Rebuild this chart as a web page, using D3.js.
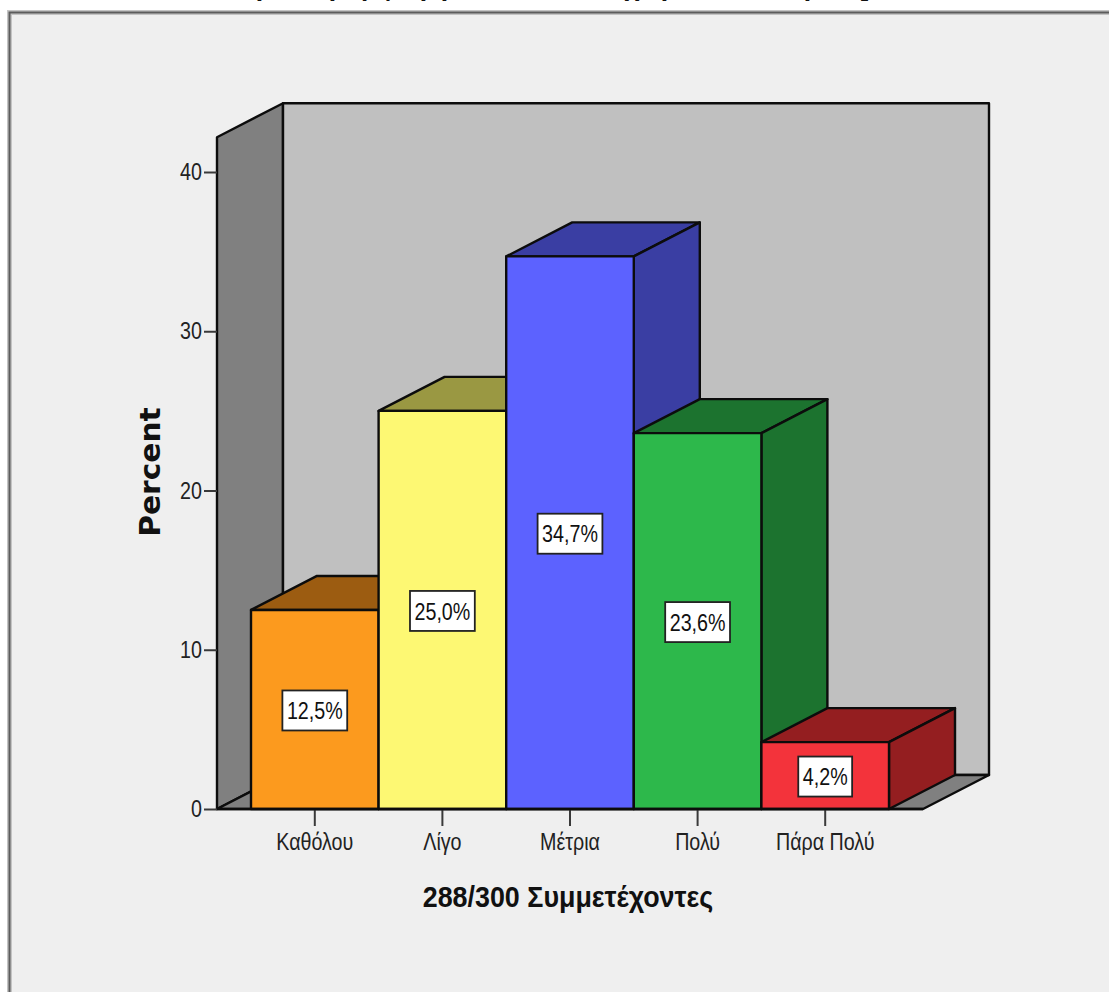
<!DOCTYPE html>
<html lang="el">
<head>
<meta charset="utf-8">
<title>288/300 Συμμετέχοντες</title>
<script src="https://cdn.jsdelivr.net/npm/d3@7/dist/d3.min.js"></script>
<style>
html, body { margin: 0; padding: 0; background: #fff; overflow: hidden; }
svg { display: block; }
</style>
</head>
<body>
<svg id="chart" width="1109" height="992"></svg>
<script>
// Survey responses, percent per answer
const categories = ["Καθόλου", "Λίγο", "Μέτρια", "Πολύ", "Πάρα Πολύ"];
const percents = [12.5, 25.0, 34.7, 23.6, 4.2];
const frontColors = ["#fc9a1e", "#fdf873", "#5c62ff", "#2db84b", "#f3333b"];
const shadeColors = ["#9c5c11", "#9a9842", "#3a3ea3", "#1c732f", "#941e20"];
const yTicks = [0, 10, 20, 30, 40];
const xTitle = "288/300 Συμμετέχοντες";
const yTitle = "Percent";
// Lower strokes of the heading, which runs off the top edge of the page
const headingGlyphs = ["ρ", "ρ", "μ", "φ", "ρ", "ρ", "χ", "ρ", "ρ", "]"];
const headingAt = [264, 337, 369, 388, 428, 449, 632, 669, 812, 865];

const svg = d3.select("#chart");
const width = 1109, height = 992;

const x = d3.scaleBand().domain(categories).range([251, 889]);
const y = d3.scaleLinear().domain([0, 40]).range([809, 172]);
const depth = { dx: 66, dy: -34 };
const wallLeft = 217, floorRight = 923, wallTopValue = 42.18;

const poly = pts => pts.map(p => p.join(",")).join(" ");
const back = ([px, py]) => [px + depth.dx, py + depth.dy];
const ink = "#0c0c0c";

// Squeeze or stretch a text selection horizontally by a factor
const stretch = (sel, k) => sel.each(function () {
  d3.select(this)
    .attr("textLength", this.getComputedTextLength() * k)
    .attr("lengthAdjust", "spacingAndGlyphs");
});

// Panel background and its soft frame
svg.append("rect").attr("x", 9).attr("y", 12).attr("width", width).attr("height", height)
  .attr("fill", "#efefef");
const frame = `M9.5,${height} V12.5 H${width}`;
svg.append("path").attr("d", frame).attr("fill", "none").attr("stroke", "#c4c4c4").attr("stroke-width", 5);
svg.append("path").attr("d", frame).attr("fill", "none").attr("stroke", "#5c5c5c").attr("stroke-width", 2);

// Heading fragments clipped by the page edge
svg.append("text")
  .attr("x", headingAt.join(" "))
  .attr("y", -4)
  .attr("font-family", "Liberation Sans, sans-serif")
  .attr("font-weight", "bold")
  .attr("font-size", 26)
  .attr("text-anchor", "middle")
  .attr("fill", "#111")
  .text(headingGlyphs.join(""));

// Box walls and floor
const y0 = y(0), yTop = y(wallTopValue);
const layer = svg.append("g").attr("stroke", ink).attr("stroke-width", 2.4).attr("stroke-linejoin", "round");
layer.append("polygon")
  .attr("points", poly([[wallLeft, y0], [wallLeft, yTop], back([wallLeft, yTop]), back([wallLeft, y0])]))
  .attr("fill", "#808080");
layer.append("polygon")
  .attr("points", poly([back([wallLeft, yTop]), back([floorRight, yTop]), back([floorRight, y0]), back([wallLeft, y0])]))
  .attr("fill", "#c0c0c0");
layer.append("polygon")
  .attr("points", poly([[wallLeft, y0], back([wallLeft, y0]), back([floorRight, y0]), [floorRight, y0]]))
  .attr("fill", "#808080");

// 3D bars, left to right so each one overlaps its neighbour's side face
const rows = categories.map((c, i) => ({ c, v: percents[i], front: frontColors[i], shade: shadeColors[i] }));
const bars = layer.selectAll("g.bar").data(rows).join("g").attr("class", "bar");
bars.each(function (d) {
  const g = d3.select(this);
  const l = x(d.c), r = l + x.bandwidth(), t = y(d.v);
  g.append("polygon").attr("fill", d.shade).attr("points", poly([[l, t], back([l, t]), back([r, t]), [r, t]]));
  g.append("polygon").attr("fill", d.shade).attr("points", poly([[r, t], back([r, t]), back([r, y0]), [r, y0]]));
  g.append("polygon").attr("fill", d.front).attr("points", poly([[l, t], [r, t], [r, y0], [l, y0]]));
});

// Value labels in white boxes at the middle of each bar front
const percentText = v => v.toFixed(1).replace(".", ",") + "%";
const face = "'Liberation Sans', sans-serif";
const narrowBy = 0.82;
const tags = svg.append("g").selectAll("g").data(rows).join("g")
  .attr("transform", d => `translate(${x(d.c) + x.bandwidth() / 2},${(y(d.v) + y0) / 2 + 1})`);
const tagBox = tags.append("rect").attr("fill", "#fff").attr("stroke", "#222").attr("stroke-width", 1.8);
const tagText = tags.append("text")
  .attr("text-anchor", "middle").attr("dy", "0.36em")
  .attr("font-family", face).attr("font-size", 24).attr("fill", "#111")
  .text(d => percentText(d.v));
tagBox.each(function (d, i) {
  const w = tagText.nodes()[i].getComputedTextLength() * narrowBy + 9;
  d3.select(this).attr("x", -w / 2).attr("y", -20).attr("width", w).attr("height", 40);
});
stretch(tagText, narrowBy);

// Axes
const yAxis = d3.axisLeft(y).tickValues(yTicks).tickSizeOuter(0).tickSize(13).tickPadding(2);
const xAxis = d3.axisBottom(x).tickSizeOuter(0).tickSize(17).tickPadding(7);
const gy = svg.append("g").attr("transform", `translate(${wallLeft},0)`).call(yAxis);
const gx = svg.append("g").attr("transform", `translate(0,${y0})`).call(xAxis);
gy.select(".domain").remove();
gx.select(".domain").remove();
svg.append("line").attr("x1", wallLeft).attr("x2", floorRight).attr("y1", y0).attr("y2", y0)
  .attr("stroke", ink).attr("stroke-width", 2.4);
[gy, gx].forEach(a => {
  a.selectAll("line").attr("stroke", "#3a3a3a").attr("stroke-width", 2);
  stretch(a.selectAll("text").attr("font-family", face).attr("font-size", 24).attr("fill", "#222"), narrowBy);
});

// Axis titles
stretch(svg.append("text")
  .attr("x", 568).attr("y", 907).attr("text-anchor", "middle")
  .attr("font-family", face).attr("font-weight", "bold").attr("font-size", 30).attr("fill", "#111")
  .text(xTitle), 0.895);
stretch(svg.append("text")
  .attr("transform", "translate(160,472) rotate(-90)").attr("text-anchor", "middle")
  .attr("font-family", "'DejaVu Sans', sans-serif").attr("font-weight", "bold").attr("font-size", 28).attr("fill", "#111")
  .text(yTitle), 1.06);
</script>
</body>
</html>
